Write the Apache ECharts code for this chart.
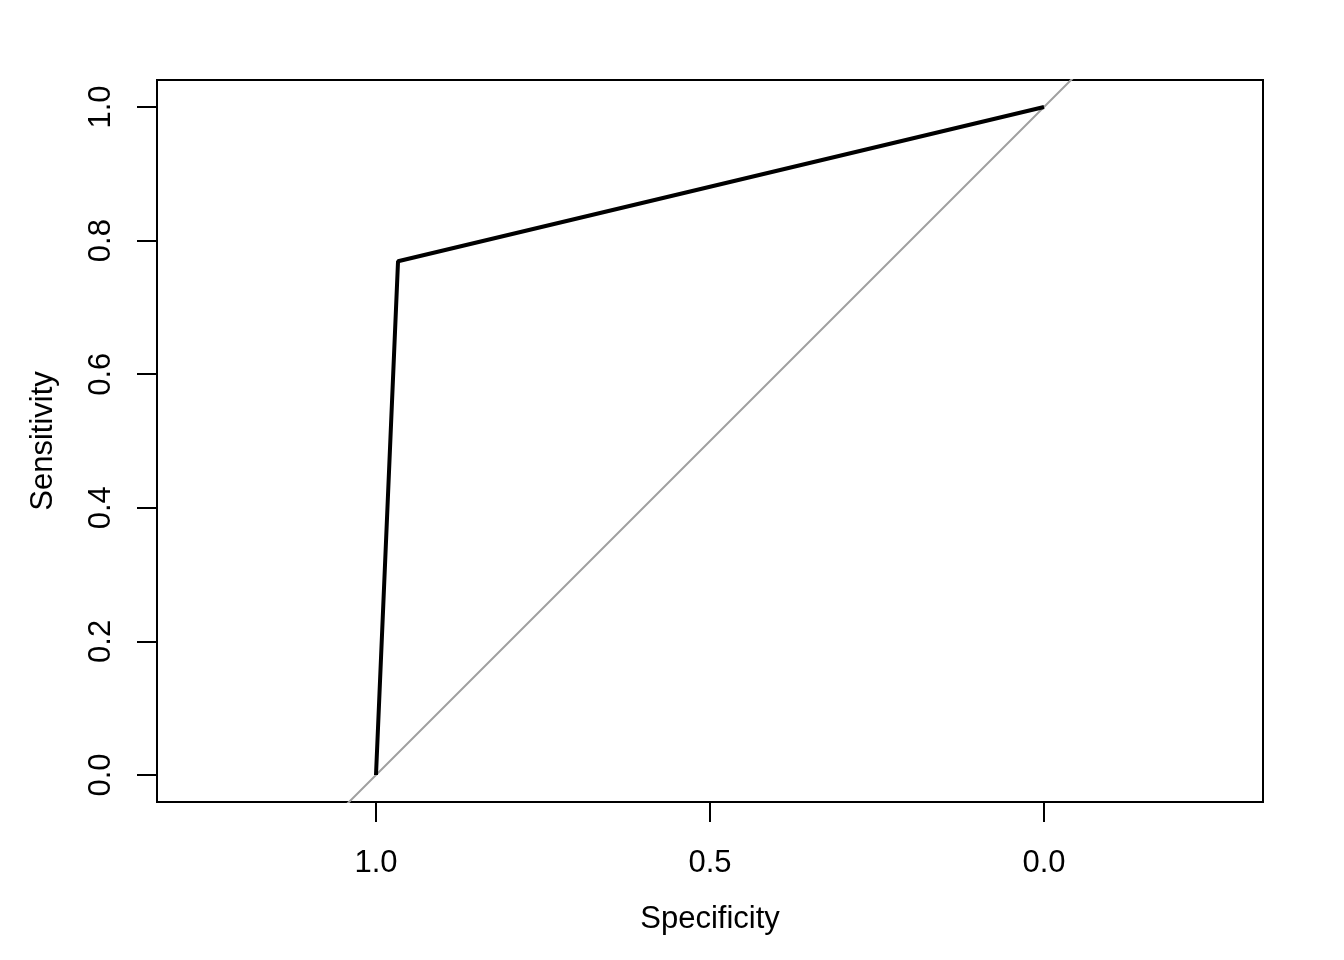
<!DOCTYPE html>
<html>
<head>
<meta charset="utf-8">
<script src="https://cdn.jsdelivr.net/npm/echarts@6/dist/echarts.min.js"></script>
<style>
html,body{margin:0;padding:0;background:#fff;}
#main{width:1344px;height:960px;}
</style>
</head>
<body>
<div id="main"></div>
<script>
// ROC curve data (specificity on reversed x axis)
const specificity = [1.0, 0.967, 0.0];
const sensitivity = [0.0, 0.769, 1.0];
// identity (chance) line endpoints, clipped to the plot box
const chanceSpec = [1.5, -0.5];
const chanceSens = [-0.5, 1.5];
const xTicks = [0, 0.5, 1.0];
const yTicks = [0, 0.2, 0.4, 0.6, 0.8, 1.0];
const xLabel = 'Specificity';
const yLabel = 'Sensitivity';

const font = 'Liberation Sans, Arial, Helvetica, sans-serif';
const chart = echarts.init(document.getElementById('main'), null, {renderer: 'canvas'});
chart.setOption({
  backgroundColor: '#ffffff',
  animation: false,
  grid: {left: 157, right: 81, top: 80, bottom: 158, show: true, borderColor: '#000', borderWidth: 2, backgroundColor: 'transparent'},
  xAxis: {
    type: 'value', inverse: true, min: -0.3278, max: 1.3278,
    name: xLabel, nameLocation: 'middle', nameGap: 102,
    nameTextStyle: {fontFamily: font, fontSize: 31, color: '#000'},
    axisLine: {show: false, onZero: false},
    splitLine: {show: false},
    axisTick: {show: true, customValues: xTicks, length: 20, lineStyle: {color: '#000', width: 2}},
    axisLabel: {customValues: xTicks, margin: 46, fontFamily: font, fontSize: 31, color: '#000',
      formatter: v => v.toFixed(1)}
  },
  yAxis: {
    type: 'value', min: -0.0404, max: 1.0404,
    name: yLabel, nameLocation: 'middle', nameGap: 98,
    nameTextStyle: {fontFamily: font, fontSize: 31, color: '#000'},
    axisLine: {show: false, onZero: false},
    splitLine: {show: false},
    axisTick: {show: true, customValues: yTicks, length: 20, lineStyle: {color: '#000', width: 2}},
    axisLabel: {customValues: yTicks, rotate: 90, margin: 40, fontFamily: font, fontSize: 31, color: '#000',
      formatter: v => v.toFixed(1)}
  },
  series: [
    {
      type: 'line', data: chanceSpec.map((s, i) => [s, chanceSens[i]]),
      symbol: 'none', clip: true, z: 1,
      lineStyle: {color: '#a0a0a0', width: 2}
    },
    {
      type: 'line', data: specificity.map((s, i) => [s, sensitivity[i]]),
      symbol: 'none', clip: true, z: 2,
      lineStyle: {color: '#000', width: 4}
    }
  ]
});
</script>
</body>
</html>
